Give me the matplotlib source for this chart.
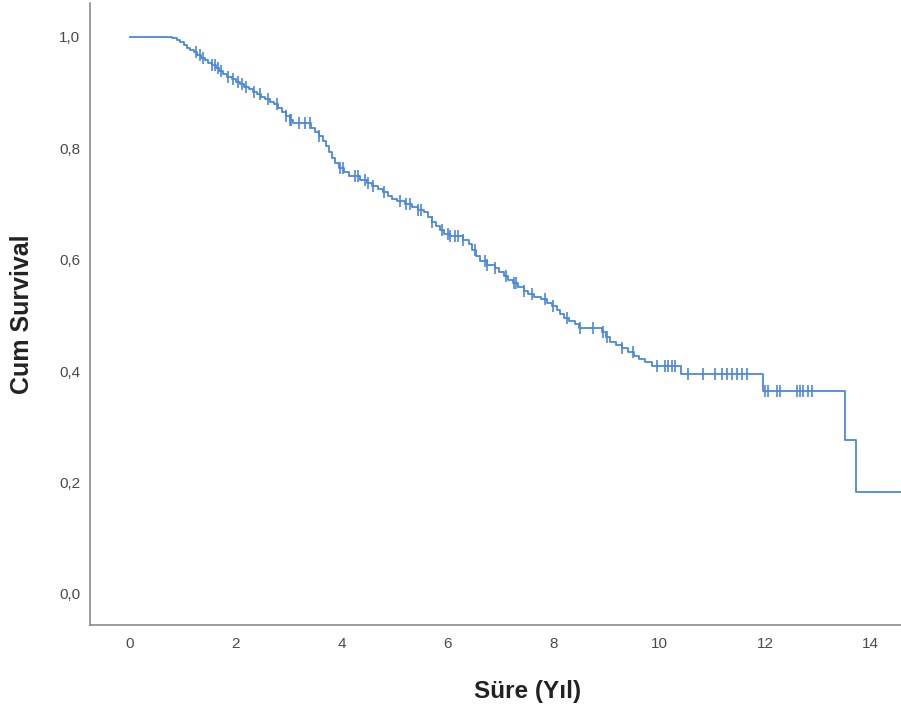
import matplotlib
matplotlib.use('Agg')
import matplotlib.pyplot as plt
import numpy as np

# Kaplan-Meier steps (time in years, survival after the drop)
event_times = [0.80, 0.88, 0.95, 1.02, 1.08, 1.14, 1.20, 1.27, 1.34, 1.41,
               1.48, 1.55, 1.62, 1.69, 1.76, 1.84, 1.92, 2.00, 2.08, 2.16,
               2.24, 2.32, 2.40, 2.48, 2.56, 2.64, 2.72, 2.80, 2.88, 2.95,
               3.02, 3.08, 3.42, 3.50, 3.57, 3.64, 3.70, 3.76, 3.82, 3.88,
               3.95, 4.04, 4.14, 4.35, 4.48, 4.58, 4.68, 4.78, 4.88, 4.96,
               5.04, 5.20, 5.32, 5.45, 5.56, 5.63, 5.70, 5.78, 5.86, 5.94,
               6.05, 6.30, 6.40, 6.47, 6.54, 6.61, 6.75, 6.90, 6.98, 7.06,
               7.14, 7.24, 7.34, 7.44, 7.52, 7.64, 7.76, 7.88, 7.98, 8.06,
               8.13, 8.20, 8.30, 8.40, 8.48, 8.92, 9.00, 9.07, 9.18, 9.30,
               9.42, 9.52, 9.62, 9.74, 9.86, 10.42, 11.96, 13.51, 13.72]
survival = [0.998, 0.995, 0.991, 0.986, 0.981, 0.977, 0.973, 0.968, 0.963, 0.958,
            0.954, 0.949, 0.944, 0.939, 0.934, 0.929, 0.925, 0.920, 0.916, 0.911,
            0.906, 0.901, 0.897, 0.892, 0.888, 0.883, 0.879, 0.872, 0.865, 0.858,
            0.851, 0.845, 0.836, 0.829, 0.822, 0.814, 0.804, 0.794, 0.783, 0.773,
            0.764, 0.757, 0.750, 0.743, 0.737, 0.732, 0.727, 0.721, 0.715, 0.710,
            0.705, 0.700, 0.695, 0.690, 0.685, 0.676, 0.668, 0.661, 0.654, 0.647,
            0.642, 0.636, 0.628, 0.618, 0.607, 0.597, 0.591, 0.585, 0.578, 0.570,
            0.564, 0.558, 0.551, 0.544, 0.539, 0.534, 0.529, 0.523, 0.517, 0.510,
            0.503, 0.496, 0.490, 0.484, 0.478, 0.470, 0.461, 0.452, 0.447, 0.441,
            0.434, 0.428, 0.422, 0.416, 0.410, 0.395, 0.364, 0.276, 0.183]
last_time = 14.6

censored_times = [1.25, 1.32, 1.38, 1.55, 1.60, 1.66, 1.72, 1.85, 1.95, 2.05, 2.12,
                  2.20, 2.35, 2.45, 2.60, 2.78, 2.95, 3.02, 3.05, 3.20, 3.30, 3.40,
                  3.58, 3.97, 4.02, 4.25, 4.30, 4.45, 4.50, 4.60, 4.80, 5.10, 5.22,
                  5.30, 5.45, 5.50, 5.70, 5.90, 6.00, 6.05, 6.15, 6.20, 6.30, 6.52,
                  6.70, 6.75, 6.90, 7.10, 7.25, 7.30, 7.45, 7.60, 7.85, 8.00, 8.25,
                  8.51, 8.75, 8.94, 9.02, 9.30, 9.50, 9.96, 10.11, 10.17, 10.25,
                  10.30, 10.55, 10.83, 11.06, 11.19, 11.29, 11.38, 11.47, 11.57,
                  11.66, 12.00, 12.06, 12.23, 12.29, 12.61, 12.67, 12.72, 12.82, 12.89]

x_ticks = [0, 2, 4, 6, 8, 10, 12, 14]
y_ticks = [0.0, 0.2, 0.4, 0.6, 0.8, 1.0]

line_color = '#4a88dc'
spine_color = '#8c8c8c'

plt.rcParams['font.family'] = ['Liberation Sans', 'DejaVu Sans']

fig = plt.figure(figsize=(9.01, 7.11), dpi=100)
ax = fig.add_axes([90 / 901, 1 - 625 / 711, 1 - 90 / 901, 622 / 711])

step_x = [0.0] + event_times + [last_time]
step_y = [1.0] + survival + [survival[-1]]
ax.step(step_x, step_y, where='post', color=line_color, linewidth=1.3)

# censor marks sit on the curve value at their time
surv_arr = np.array([1.0] + survival)
idx = np.searchsorted(np.array(event_times), np.array(censored_times), side='right')
ax.plot(censored_times, surv_arr[idx], linestyle='none', marker='|',
        markersize=8, markeredgewidth=1.2, color=line_color)

ax.set_xlim(-0.756, 14.57)
ax.set_ylim(-0.0557, 1.061)
ax.set_xticks(x_ticks)
ax.set_xticklabels([str(t) for t in x_ticks])
ax.set_yticks(y_ticks)
ax.set_yticklabels([f'{v:.1f}'.replace('.', ',') for v in y_ticks])
ax.tick_params(axis='both', length=0, labelsize=11, labelcolor='#4a4a4a')
ax.tick_params(axis='x', pad=9)
ax.tick_params(axis='y', pad=7)

for side in ('top', 'right'):
    ax.spines[side].set_visible(False)
for side in ('left', 'bottom'):
    ax.spines[side].set_color(spine_color)
    ax.spines[side].set_linewidth(1.2)

ax.set_xlabel('Süre (Yıl)', fontsize=17.5, fontweight='bold', color='#222222')
ax.xaxis.set_label_coords(0.539, -0.088)
ax.set_ylabel('Cum Survival', fontsize=18, fontweight='bold', color='#222222', labelpad=18)

fig.savefig('out.png', dpi=100)
